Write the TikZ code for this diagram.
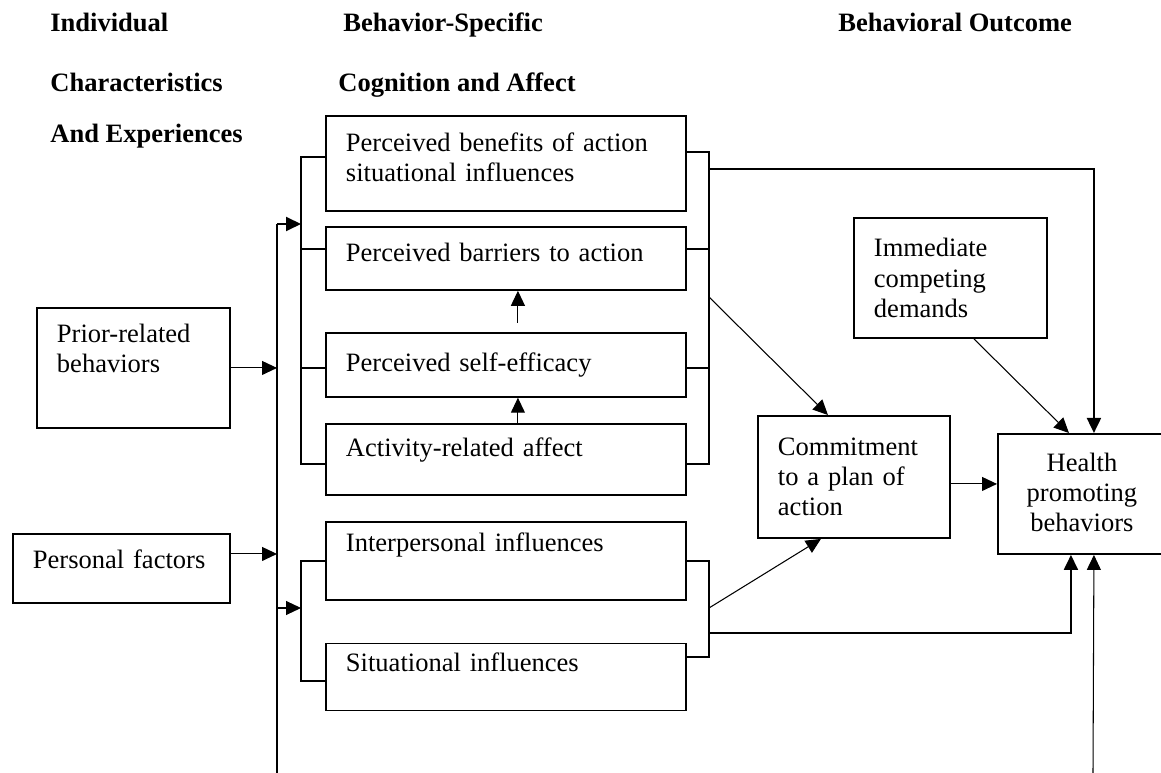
\documentclass[tikz,border=0pt]{standalone}
\usepackage{fontspec}
\setmainfont{Liberation Serif}
\usetikzlibrary{arrows.meta, positioning}

\begin{document}
\begin{tikzpicture}[
        x=0.02cm, y=-0.02cm,
        font=\fontsize{15.1pt}{17.1pt}\selectfont,
        box/.style={rectangle, draw, line width=1.1pt, anchor=north west, inner xsep=0.4cm, inner ysep=0pt, align=left},
        factorbox/.style={box, text width=6.4cm, minimum width=7.2cm},
        head/.style={anchor=base west, inner sep=0pt, font=\fontsize{15.1pt}{17.1pt}\selectfont\bfseries},
        wire/.style={line width=1.1pt},
        arrow/.style={-{Triangle[length=0.3cm, width=0.28cm]}, line width=0.6pt},
        warrow/.style={-{Triangle[length=0.3cm, width=0.28cm]}, line width=1.1pt}
    ]
        \useasboundingbox (0,0) rectangle (1161,773);
        \clip (0,0) rectangle (1161,773);

        % Column headings
        \node[head] (indiv) at (50,32) {Individual};
        \node[head] (charac) at (50,92) {Characteristics};
        \node[head] (exper) at (50,143) {And Experiences};
        \node[head] (behspec) at (343,32) {Behavior-Specific};
        \node[head] (cogaff) at (338,92) {Cognition and Affect};
        \node[head] (outcome) at (838,32) {Behavioral Outcome};

        % Individual characteristics
        \node[box, text width=3.06cm, minimum height=2.4cm, text depth=1.37cm] (prior) at (36,307) {Prior-related\\behaviors\\\mbox{}};
        \node[box, text width=3.54cm, minimum height=1.38cm, text depth=0.36cm] (personal) at (12,533) {Personal factors};

        % Behavior-specific cognition and affect
        \node[factorbox, minimum height=1.9cm, text depth=0.84cm] (benefits) at (325,115) {Perceived benefits of action\\situational influences};
        \node[factorbox, minimum height=1.26cm, text depth=0.24cm, below=0.28cm of benefits] (barriers) {Perceived barriers to action};
        \node[factorbox, minimum height=1.28cm, below=0.82cm of barriers] (efficacy) {Perceived self-efficacy};
        \node[factorbox, minimum height=1.42cm, text depth=0.5cm, below=0.5cm of efficacy] (affect) {Activity-related affect};
        \node[factorbox, minimum height=1.56cm, text depth=0.74cm, below=0.5cm of affect] (interp) {Interpersonal influences};
        \node[factorbox, minimum height=1.34cm, text depth=0.6cm, below=0.84cm of interp] (situ) {Situational influences};

        % Behavioral outcome
        \node[box, text width=3.04cm, minimum height=2.44cm] (commit) at (757,415) {Commitment\\to a plan of\\action};
        \node[box, text width=3.06cm, minimum height=2.4cm] (demands) at (853,217) {Immediate\\competing\\demands};
        \node[box, text width=3.36cm, inner xsep=0pt, minimum height=2.4cm, text depth=1.28cm, align=center] (health) at (997,433) {Health\\promoting\\behaviors};

        % Trunk and brackets
        \coordinate (trunkTop) at (277,224);
        \coordinate (trunkMid) at (277,608);
        \coordinate (trunkEnd) at (277,773);
        \coordinate (lb1) at (301,157);
        \coordinate (lb2) at (301,249);
        \coordinate (lb3) at (301,368);
        \coordinate (lb4) at (301,464);
        \coordinate (lb5) at (301,561);
        \coordinate (lb6) at (301,681);
        \coordinate (rb1) at (709,152);
        \coordinate (rb2) at (709,249);
        \coordinate (rb3) at (709,368);
        \coordinate (rb4) at (709,464);
        \coordinate (rb5) at (709,561);
        \coordinate (rb6) at (709,657);
        \coordinate (rbOut) at (709,169);
        \coordinate (rbDiag) at (709,297);
        \coordinate (rb2Out) at (709,633);
        \coordinate (rb2Diag) at (709,608);
        \coordinate (bottomIn) at (1093,773);

        \draw[wire] (trunkTop) -- (trunkEnd);
        \draw[warrow] (trunkTop) -- (trunkTop -| lb1);
        \draw[arrow] (trunkMid) -- (trunkMid -| lb5);
        \draw[arrow] (prior.east) -- (prior.east -| trunkTop);
        \draw[arrow] ([yshift=0.29cm]personal.east) coordinate (persOut) -- (persOut -| trunkTop);

        \draw[wire] (benefits.west |- lb1) -- (lb1) -- (lb4) -- (affect.west |- lb4);
        \draw[wire] (lb2) -- (barriers.west |- lb2);
        \draw[wire] (lb3) -- (efficacy.west |- lb3);
        \draw[wire] (interp.west |- lb5) -- (lb5) -- (lb6) -- (situ.west |- lb6);

        \draw[wire] (benefits.east |- rb1) -- (rb1) -- (rb4) -- (affect.east |- rb4);
        \draw[wire] (rb2) -- (barriers.east |- rb2);
        \draw[wire] (rb3) -- (efficacy.east |- rb3);
        \draw[wire] (interp.east |- rb5) -- (rb5) -- (rb6) -- (situ.east |- rb6);

        % Arrows inside the column
        \draw[arrow] ([xshift=0.24cm, yshift=0.18cm]efficacy.north) -- ([xshift=0.24cm]barriers.south);
        \draw[arrow] ([xshift=0.24cm]affect.north) -- ([xshift=0.24cm]efficacy.south);

        % Towards the outcome
        \draw[warrow] (rbOut) -| ([xshift=0.24cm]health.north);
        \draw[arrow] (rbDiag) -- ([xshift=-0.52cm]commit.north);
        \draw[arrow] (rb2Diag) -- ([xshift=-0.66cm]commit.south);
        \draw[warrow] (rb2Out) -| ([xshift=-0.22cm]health.south);
        \draw[arrow] ([yshift=-0.14cm]commit.east) coordinate (c2h) -- (c2h -| health.west);
        \draw[arrow] ([xshift=0.47cm]demands.south) -- ([xshift=-0.26cm]health.north);
        \draw[arrow] (bottomIn) -- ([xshift=0.24cm]health.south);

    \end{tikzpicture}
\end{document}
